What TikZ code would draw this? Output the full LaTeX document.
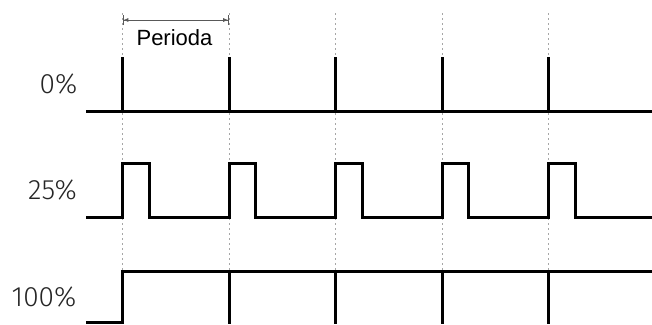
\documentclass[tikz,border=0pt]{standalone}
\usepackage{fontspec}
\setmainfont{Liberation Sans}
\newfontfamily\lightfont{Fira Sans Light}
\usetikzlibrary{arrows.meta}
\begin{document}
\begin{tikzpicture}[x=1pt,y=-1pt,
  sig/.style={line width=3pt, black, line join=miter},
  guide/.style={black!35, line width=1pt, dash pattern=on 2pt off 3pt},
  lbl/.style={font=\lightfont\fontsize{28}{28}\selectfont, text=black!85, anchor=base east, inner sep=0pt},
  dim/.style={black!65, line width=0.8pt, {Bar[width=10pt]Latex[length=5pt,width=4pt]}-{Latex[length=5pt,width=4pt]Bar[width=10pt]}}]
\useasboundingbox (0,0) rectangle (652,324);
% guides
\foreach \x in {122.5,229,335.5,442,548.5}
  \draw[guide] (\x,13) -- (\x,271);
% period dimension
\coordinate (pa) at (122.5,20);
\coordinate (pb) at (229,20);
\draw[dim] (pa) -- (pb);
\node[font=\fontsize{22}{22}\selectfont, inner sep=0pt, anchor=base] (per) at (174.5,45) {Perioda};
% labels
\node[lbl] (l0) at (77.5,93) {0\%};
\node[lbl] (l25) at (77,199) {25\%};
\node[lbl] (l100) at (76.5,306.5) {100\%};
% 0% row
\draw[sig] (86,111) -- (652,111);
\foreach \x in {122.5,229,335.5,442,548.5}
  \draw[sig] (\x,111) -- (\x,57);
% 25% row
\draw[sig] (86,217.5) -| (122.5,163.5) -| (149,217.5)
  -| (229,163.5) -| (255.5,217.5)
  -| (335.5,163.5) -| (362,217.5)
  -| (442,163.5) -| (468.5,217.5)
  -| (548.5,163.5) -| (575,217.5) -- (652,217.5);
% 100% row
\draw[sig] (86,322.5) -| (122.5,271.5) -- (652,271.5);
\foreach \x in {229,335.5,442,548.5}
  \draw[sig] (\x,271.5) -- (\x,324);
\end{tikzpicture}
\end{document}
